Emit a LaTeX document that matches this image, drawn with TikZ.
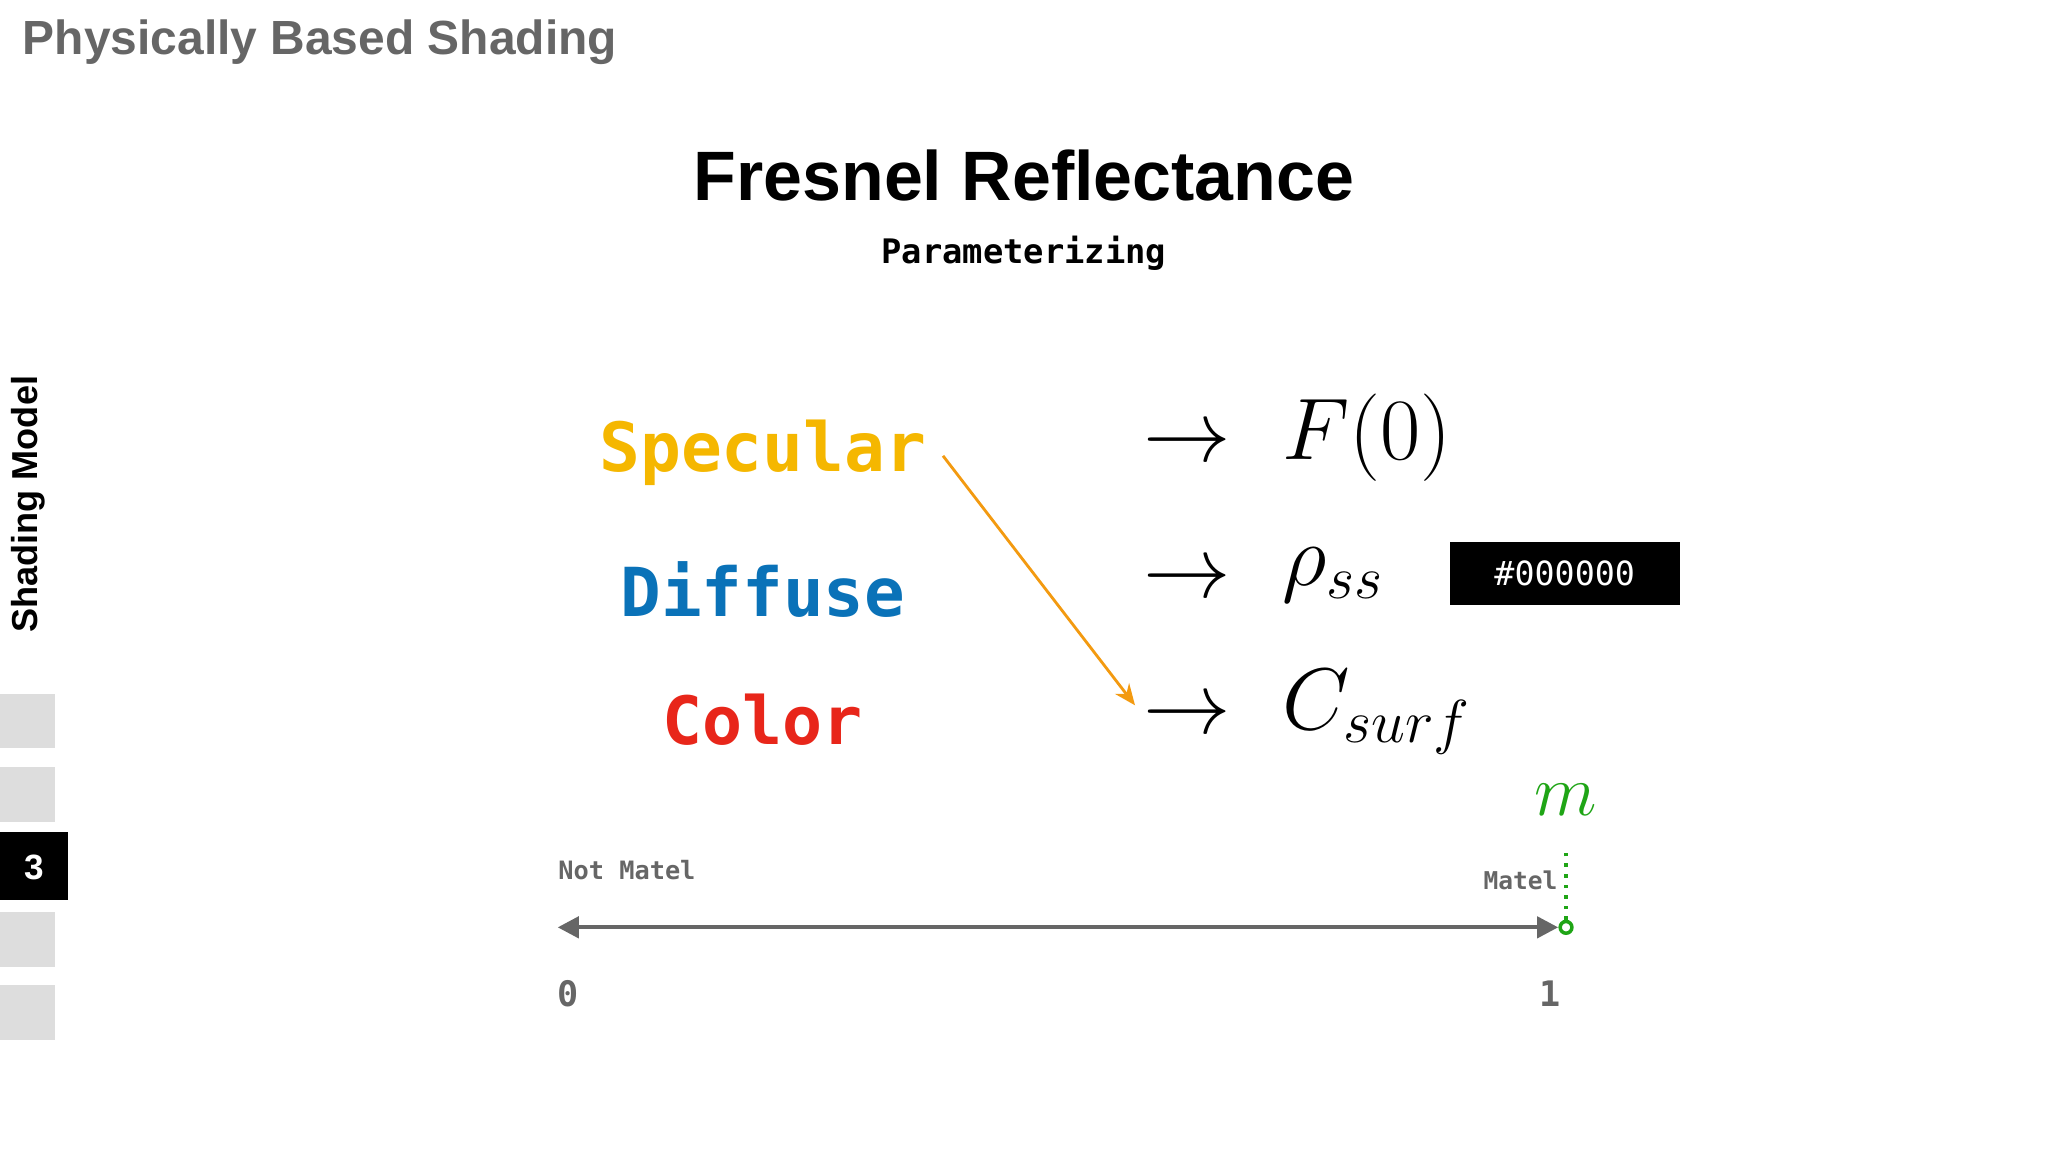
\documentclass[tikz,border=0pt]{standalone}
\usepackage{fontspec}
\setmainfont{Liberation Sans}
\setmonofont{DejaVu Sans Mono}
\usetikzlibrary{arrows.meta}
\definecolor{hdr}{HTML}{666666}
\definecolor{spec}{HTML}{F5B700}
\definecolor{diff}{HTML}{0A72B8}
\definecolor{colr}{HTML}{E8261A}
\definecolor{orng}{HTML}{F39A10}
\definecolor{grn}{HTML}{1FA516}
\definecolor{sq}{HTML}{DDDDDD}
\newcommand{\fitw}[2]{\resizebox{#1pt}{!}{#2}}
\tikzset{
  lbl/.style={inner sep=0pt, anchor=center},
  arr/.style={lbl, font=\fontsize{25}{25}\selectfont},
  mth/.style={lbl, anchor=west, font=\fontsize{23}{23}\selectfont},
  sqbox/.style={fill=sq, draw=none},
}
\begin{document}
\begin{tikzpicture}[x=0.01306cm,y=-0.01306cm]
\useasboundingbox (0,0) rectangle (1568,882);
\fill[white] (0,0) rectangle (1568,882);
% header
\node[lbl, anchor=west, text=hdr] (hdr) at (17,32) {\fitw{169}{\bfseries Physically Based Shading}};
\node[lbl] (title) at (784,134) {\fitw{188}{\bfseries Fresnel Reflectance}};
\node[lbl] (sub) at (784,194) {\fitw{81}{\ttfamily\bfseries Parameterizing}};
% sidebar
\node[lbl, rotate=90] (side) at (22,386) {\fitw{73}{\bfseries Shading Model}};
\fill[sqbox] (0,531) rectangle (42,573);
\fill[sqbox] (0,587) rectangle (42,629);
\fill[black] (0,637) rectangle (52,689);
\node[lbl, text=white, font=\bfseries\fontsize{10}{10}\selectfont] (three) at (26,664) {3};
\fill[sqbox] (0,698) rectangle (42,740);
\fill[sqbox] (0,754) rectangle (42,796);
% words
\node[lbl, text=spec] (spec) at (584,347) {\fitw{93}{\ttfamily\bfseries Specular}};
\node[lbl, text=diff] (diff) at (584,451) {\fitw{81}{\ttfamily\bfseries Diffuse}};
\node[lbl, text=colr] (colr) at (584,551) {\fitw{57}{\ttfamily\bfseries Color}};
% arrows column
\node[arr] (a1) at (909,341) {$\rightarrow$};
\node[arr] (a2) at (909,445) {$\rightarrow$};
\node[arr] (a3) at (909,549) {$\rightarrow$};
\node[mth] (f0) at (981,335) {$F(0)$};
\node[mth] (rho) at (981,440) {$\rho_{ss}$};
\node[mth] (cs) at (981,545) {$C_{surf}$};
\node[lbl, fill=black, minimum width=176*0.01306cm, minimum height=48*0.01306cm, text=white] (hex) at (1198,439) {\fitw{40}{\ttfamily\#000000}};
\coordinate (o1) at (722,349);
\coordinate (o2) at (869,540);
\draw[orng, line width=0.8pt, -{Stealth[length=6pt,width=5pt]}] (o1) -- (o2);
% axis
\coordinate (ax0) at (427,710);
\coordinate (ax1) at (1193,710);
\draw[hdr, line width=1.2pt, {Triangle[length=6pt,width=6pt]}-{Triangle[length=6pt,width=6pt]}] (ax0) -- (ax1);
\node[lbl, anchor=west, text=hdr] (nm) at (427,666) {\fitw{39}{\ttfamily\bfseries Not Matel}};
\node[lbl, anchor=east, text=hdr] (mt) at (1193,674) {\fitw{21}{\ttfamily\bfseries Matel}};
\node[lbl, text=hdr, font=\ttfamily\bfseries\fontsize{10}{10}\selectfont] (z) at (435,761) {0};
\node[lbl, text=hdr, font=\ttfamily\bfseries\fontsize{10}{10}\selectfont] (o) at (1187,761) {1};
\node[circle, draw=grn, line width=1pt, fill=white, minimum size=9*0.01306cm, inner sep=0pt] (mc) at (1199,710) {};
\node[lbl, text=grn, font=\fontsize{20}{20}\selectfont] (m) at (1199,612) {$m$};
\draw[grn, line width=1pt, dotted] (mc.north) -- ++(0,-56) coordinate (mtop);
\end{tikzpicture}
\end{document}
